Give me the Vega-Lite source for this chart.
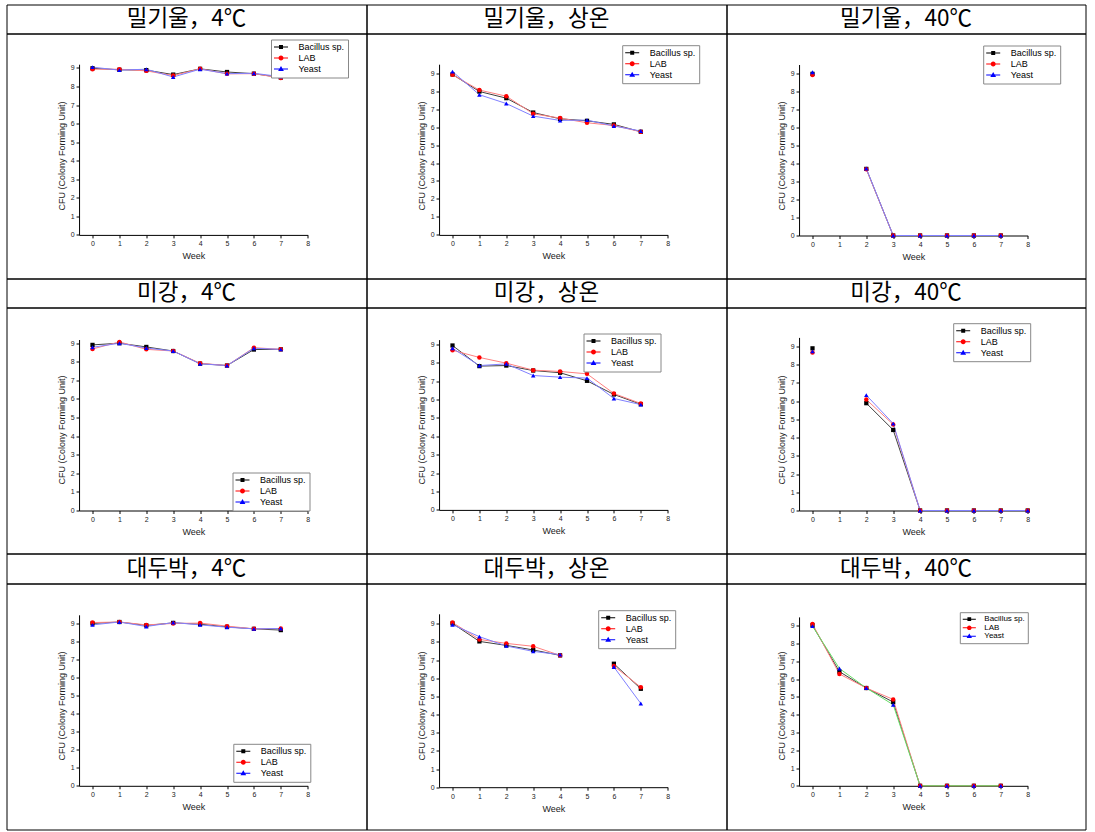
{
"$schema": "https://vega.github.io/schema/vega-lite/v6.json",
"padding": {"left": 5.5, "top": 3.5, "right": 0, "bottom": 0},
"background": "white",
"columns": 3,
"spacing": 0,
"bounds": "flush",
"resolve": {"scale": {"x": "independent", "y": "independent", "color": "independent", "shape": "independent", "stroke": "independent"}, "legend": {"color": "independent", "shape": "independent"}},
"config": {
  "view": {"stroke": "#000", "strokeWidth": 1},
  "axis": {"grid": false, "domain": true, "domainColor": "#000", "domainWidth": 1, "ticks": true, "tickColor": "#000", "tickSize": 3, "tickWidth": 1, "labelFont": "Liberation Sans", "labelFontSize": 7, "labelColor": "#222", "labelPadding": 2, "labelOverlap": false, "labelFlush": false, "titleFont": "Liberation Sans", "titleFontSize": 9, "titleFontWeight": "normal", "titleColor": "#222"},
  "axisX": {"titlePadding": 5, "labelAngle": 0},
  "axisY": {"titlePadding": 4, "labelAngle": 0, "titleY": 122},
  "legend": {"padding": 3, "strokeColor": "#888", "fillColor": "#fff", "labelFont": "Liberation Sans", "labelFontSize": 9, "labelColor": "#000", "symbolSize": 64, "symbolStrokeWidth": 0, "rowPadding": 1, "labelOffset": 13, "symbolOffset": 2.5, "cornerRadius": 0}
},
"datasets": {"d": [
{"p":1,"w":0,"Bacillus":8.98,"LAB":8.93,"Yeast":9.04},
{"p":1,"w":1,"Bacillus":8.90,"LAB":8.93,"Yeast":8.88},
{"p":1,"w":2,"Bacillus":8.88,"LAB":8.84,"Yeast":8.93},
{"p":1,"w":3,"Bacillus":8.64,"LAB":8.59,"Yeast":8.51},
{"p":1,"w":4,"Bacillus":8.95,"LAB":8.95,"Yeast":8.93},
{"p":1,"w":5,"Bacillus":8.78,"LAB":8.68,"Yeast":8.69},
{"p":1,"w":6,"Bacillus":8.69,"LAB":8.69,"Yeast":8.71},
{"p":1,"w":7,"Bacillus":8.48,"LAB":8.46,"Yeast":8.53},
{"p":2,"w":0,"Bacillus":8.93,"LAB":8.91,"Yeast":9.09},
{"p":2,"w":1,"Bacillus":7.98,"LAB":8.06,"Yeast":7.80},
{"p":2,"w":2,"Bacillus":7.61,"LAB":7.72,"Yeast":7.31},
{"p":2,"w":3,"Bacillus":6.81,"LAB":6.74,"Yeast":6.61},
{"p":2,"w":4,"Bacillus":6.46,"LAB":6.50,"Yeast":6.37},
{"p":2,"w":5,"Bacillus":6.35,"LAB":6.24,"Yeast":6.39},
{"p":2,"w":6,"Bacillus":6.15,"LAB":6.09,"Yeast":6.06},
{"p":2,"w":7,"Bacillus":5.74,"LAB":5.74,"Yeast":5.78},
{"p":3,"w":0,"Bacillus":8.98,"LAB":8.91,"Yeast":9.07},
{"p":3,"w":1,"Bacillus":null,"LAB":null,"Yeast":null},
{"p":3,"w":2,"Bacillus":3.70,"LAB":3.68,"Yeast":3.72},
{"p":3,"w":3,"Bacillus":0,"LAB":0,"Yeast":0},
{"p":3,"w":4,"Bacillus":0,"LAB":0,"Yeast":0},
{"p":3,"w":5,"Bacillus":0,"LAB":0,"Yeast":0},
{"p":3,"w":6,"Bacillus":0,"LAB":0,"Yeast":0},
{"p":3,"w":7,"Bacillus":0,"LAB":0,"Yeast":0},
{"p":4,"w":0,"Bacillus":8.91,"LAB":8.69,"Yeast":8.78},
{"p":4,"w":1,"Bacillus":9.00,"LAB":9.07,"Yeast":9.00},
{"p":4,"w":2,"Bacillus":8.80,"LAB":8.67,"Yeast":8.74},
{"p":4,"w":3,"Bacillus":8.58,"LAB":8.58,"Yeast":8.58},
{"p":4,"w":4,"Bacillus":7.90,"LAB":7.92,"Yeast":7.89},
{"p":4,"w":5,"Bacillus":7.80,"LAB":7.80,"Yeast":7.80},
{"p":4,"w":6,"Bacillus":8.66,"LAB":8.76,"Yeast":8.73},
{"p":4,"w":7,"Bacillus":8.67,"LAB":8.67,"Yeast":8.67},
{"p":5,"w":0,"Bacillus":8.93,"LAB":8.67,"Yeast":8.78},
{"p":5,"w":1,"Bacillus":7.81,"LAB":8.28,"Yeast":7.84},
{"p":5,"w":2,"Bacillus":7.84,"LAB":7.97,"Yeast":7.93},
{"p":5,"w":3,"Bacillus":7.57,"LAB":7.59,"Yeast":7.30},
{"p":5,"w":4,"Bacillus":7.45,"LAB":7.52,"Yeast":7.21},
{"p":5,"w":5,"Bacillus":7.01,"LAB":7.39,"Yeast":7.16},
{"p":5,"w":6,"Bacillus":6.27,"LAB":6.32,"Yeast":6.05},
{"p":5,"w":7,"Bacillus":5.74,"LAB":5.78,"Yeast":5.72},
{"p":6,"w":0,"Bacillus":8.90,"LAB":8.67,"Yeast":8.73},
{"p":6,"w":1,"Bacillus":null,"LAB":null,"Yeast":null},
{"p":6,"w":2,"Bacillus":5.89,"LAB":6.09,"Yeast":6.33},
{"p":6,"w":3,"Bacillus":4.42,"LAB":4.72,"Yeast":4.77},
{"p":6,"w":4,"Bacillus":0,"LAB":0,"Yeast":0},
{"p":6,"w":5,"Bacillus":0,"LAB":0,"Yeast":0},
{"p":6,"w":6,"Bacillus":0,"LAB":0,"Yeast":0},
{"p":6,"w":7,"Bacillus":0,"LAB":0,"Yeast":0},
{"p":6,"w":8,"Bacillus":0,"LAB":0,"Yeast":0},
{"p":7,"w":0,"Bacillus":9.02,"LAB":9.07,"Yeast":8.94},
{"p":7,"w":1,"Bacillus":9.10,"LAB":9.10,"Yeast":9.10},
{"p":7,"w":2,"Bacillus":8.91,"LAB":8.94,"Yeast":8.85},
{"p":7,"w":3,"Bacillus":9.05,"LAB":9.02,"Yeast":9.07},
{"p":7,"w":4,"Bacillus":8.98,"LAB":9.04,"Yeast":8.94},
{"p":7,"w":5,"Bacillus":8.83,"LAB":8.87,"Yeast":8.81},
{"p":7,"w":6,"Bacillus":8.72,"LAB":8.72,"Yeast":8.72},
{"p":7,"w":7,"Bacillus":8.65,"LAB":8.74,"Yeast":8.74},
{"p":8,"w":0,"Bacillus":9.02,"LAB":9.07,"Yeast":8.95},
{"p":8,"w":1,"Bacillus":8.03,"LAB":8.14,"Yeast":8.29},
{"p":8,"w":2,"Bacillus":7.81,"LAB":7.92,"Yeast":7.78},
{"p":8,"w":3,"Bacillus":7.56,"LAB":7.76,"Yeast":7.48},
{"p":8,"w":4,"Bacillus":7.26,"LAB":7.26,"Yeast":7.30},
{"p":8,"w":5,"Bacillus":null,"LAB":null,"Yeast":null},
{"p":8,"w":6,"Bacillus":6.80,"LAB":6.67,"Yeast":6.62},
{"p":8,"w":7,"Bacillus":5.42,"LAB":5.51,"Yeast":4.61},
{"p":9,"w":0,"Bacillus":9.03,"LAB":9.10,"Yeast":8.98},
{"p":9,"w":1,"Bacillus":6.42,"LAB":6.29,"Yeast":6.60},
{"p":9,"w":2,"Bacillus":5.50,"LAB":5.50,"Yeast":5.50},
{"p":9,"w":3,"Bacillus":4.71,"LAB":4.86,"Yeast":4.56},
{"p":9,"w":4,"Bacillus":0,"LAB":0,"Yeast":0},
{"p":9,"w":5,"Bacillus":0,"LAB":0,"Yeast":0},
{"p":9,"w":6,"Bacillus":0,"LAB":0,"Yeast":0},
{"p":9,"w":7,"Bacillus":0,"LAB":0,"Yeast":0}
]},
"concat": [
 {"width": 360, "height": 29, "data": {"values": [{"t": "밀기울，4℃"}]}, "mark": {"type": "text", "font": "Noto Sans CJK KR", "fontSize": 22.5, "baseline": "middle", "color": "#000"}, "encoding": {"text": {"field": "t"}, "x": {"datum": 0, "type": "quantitative", "scale": {"domain": [-1, 1]}, "axis": null}, "y": {"datum": 0, "type": "quantitative", "scale": {"domain": [-1, 1]}, "axis": null}}},
 {"width": 360, "height": 29, "data": {"values": [{"t": "밀기울，상온"}]}, "mark": {"type": "text", "font": "Noto Sans CJK KR", "fontSize": 22.5, "baseline": "middle", "color": "#000"}, "encoding": {"text": {"field": "t"}, "x": {"datum": 0, "type": "quantitative", "scale": {"domain": [-1, 1]}, "axis": null}, "y": {"datum": 0, "type": "quantitative", "scale": {"domain": [-1, 1]}, "axis": null}}},
 {"width": 359, "height": 29, "data": {"values": [{"t": "밀기울，40℃"}]}, "mark": {"type": "text", "font": "Noto Sans CJK KR", "fontSize": 22.5, "baseline": "middle", "color": "#000"}, "encoding": {"text": {"field": "t"}, "x": {"datum": 0, "type": "quantitative", "scale": {"domain": [-1, 1]}, "axis": null}, "y": {"datum": 0, "type": "quantitative", "scale": {"domain": [-1, 1]}, "axis": null}}},

 {"width": 360, "height": 245,
  "encoding": {"x": {"field": "w", "type": "quantitative", "scale": {"domain": [-0.5, 8], "range": [72.55, 301.2], "nice": false, "zero": false}, "axis": {"values": [0,1,2,3,4,5,6,7,8], "offset": -43.6, "title": "Week"}}, "y": {"field": "v", "type": "quantitative", "scale": {"domain": [0, 9.2], "range": [201.4, 30.7], "nice": false, "zero": false}, "axis": {"values": [0,1,2,3,4,5,6,7,8,9], "offset": -72.55, "title": "CFU (Colony Forming Unit)"}}},
  "layer": [
  {"data": {"name": "d"}, "transform": [{"filter": "datum.p === 1"}, {"fold": ["Bacillus", "LAB", "Yeast"], "as": ["o", "v"]}], "mark": {"type": "line", "strokeWidth": 1, "invalid": "break-paths-filter-domains"}, "encoding": {"stroke": {"field": "o", "type": "nominal", "scale": {"range": ["#404040", "#ff8080", "#8080ff"]}, "legend": null}}},
  {"data": {"name": "d"}, "transform": [{"filter": "datum.p === 1"}, {"fold": ["Bacillus", "LAB", "Yeast"], "as": ["o", "v"]}, {"filter": "datum.o === 'Bacillus'"}], "mark": {"type": "point", "filled": true, "shape": "square", "color": "#000", "size": 18, "opacity": 1}},
  {"data": {"name": "d"}, "transform": [{"filter": "datum.p === 1"}, {"fold": ["Bacillus", "LAB", "Yeast"], "as": ["o", "v"]}, {"filter": "datum.o === 'LAB'"}], "mark": {"type": "point", "filled": true, "shape": "circle", "color": "#ff0000", "size": 20, "opacity": 1}},
  {"data": {"name": "d"}, "transform": [{"filter": "datum.p === 1"}, {"fold": ["Bacillus", "LAB", "Yeast"], "as": ["o", "v"]}, {"filter": "datum.o === 'Yeast'"}], "mark": {"type": "point", "filled": true, "shape": "triangle-up", "color": "#0000ff", "size": 20, "opacity": 1}},
  {"data": {"values": []}, "mark": {"type": "point", "filled": true, "strokeWidth": 0, "opacity": 1}, "encoding": {"color": {"field": "o", "type": "nominal", "scale": {"domain": ["Bacillus", "LAB", "Yeast"], "range": ["#000000", "#ff0000", "#0000ff"]}, "legend": {"title": null, "orient": "none", "legendX": 264.5, "legendY": 6, "labelExpr": "datum.value === 'Bacillus' ? 'Bacillus sp.' : datum.value"}}, "shape": {"field": "o", "type": "nominal", "scale": {"domain": ["Bacillus", "LAB", "Yeast"], "range": ["M-1.75,-0.13H1.75V0.13H-1.75Z M-0.5,-0.5H0.5V0.5H-0.5Z", "M-1.75,-0.13H1.75V0.13H-1.75Z M-0.62,0A0.62,0.62,0,1,1,0.62,0A0.62,0.62,0,1,1,-0.62,0Z", "M-1.75,-0.13H1.75V0.13H-1.75Z M0,-0.75L0.72,0.5H-0.72Z"]}, "legend": {"title": null, "orient": "none", "legendX": 264.5, "legendY": 6, "labelExpr": "datum.value === 'Bacillus' ? 'Bacillus sp.' : datum.value"}}}}
 ]},

 {"width": 360, "height": 245,
  "encoding": {"x": {"field": "w", "type": "quantitative", "scale": {"domain": [-0.5, 8], "range": [72.55, 301.2], "nice": false, "zero": false}, "axis": {"values": [0,1,2,3,4,5,6,7,8], "offset": -43.6, "title": "Week"}}, "y": {"field": "v", "type": "quantitative", "scale": {"domain": [0, 9.5], "range": [201.4, 30.7], "nice": false, "zero": false}, "axis": {"values": [0,1,2,3,4,5,6,7,8,9], "offset": -72.55, "title": "CFU (Colony Forming Unit)"}}},
  "layer": [
  {"data": {"name": "d"}, "transform": [{"filter": "datum.p === 2"}, {"fold": ["Bacillus", "LAB", "Yeast"], "as": ["o", "v"]}], "mark": {"type": "line", "strokeWidth": 1, "invalid": "break-paths-filter-domains"}, "encoding": {"stroke": {"field": "o", "type": "nominal", "scale": {"range": ["#404040", "#ff8080", "#8080ff"]}, "legend": null}}},
  {"data": {"name": "d"}, "transform": [{"filter": "datum.p === 2"}, {"fold": ["Bacillus", "LAB", "Yeast"], "as": ["o", "v"]}, {"filter": "datum.o === 'Bacillus'"}], "mark": {"type": "point", "filled": true, "shape": "square", "color": "#000", "size": 18, "opacity": 1}},
  {"data": {"name": "d"}, "transform": [{"filter": "datum.p === 2"}, {"fold": ["Bacillus", "LAB", "Yeast"], "as": ["o", "v"]}, {"filter": "datum.o === 'LAB'"}], "mark": {"type": "point", "filled": true, "shape": "circle", "color": "#ff0000", "size": 20, "opacity": 1}},
  {"data": {"name": "d"}, "transform": [{"filter": "datum.p === 2"}, {"fold": ["Bacillus", "LAB", "Yeast"], "as": ["o", "v"]}, {"filter": "datum.o === 'Yeast'"}], "mark": {"type": "point", "filled": true, "shape": "triangle-up", "color": "#0000ff", "size": 20, "opacity": 1}},
  {"data": {"values": []}, "mark": {"type": "point", "filled": true, "strokeWidth": 0, "opacity": 1}, "encoding": {"color": {"field": "o", "type": "nominal", "scale": {"domain": ["Bacillus", "LAB", "Yeast"], "range": ["#000000", "#ff0000", "#0000ff"]}, "legend": {"title": null, "orient": "none", "legendX": 255.7, "legendY": 11.7, "labelExpr": "datum.value === 'Bacillus' ? 'Bacillus sp.' : datum.value"}}, "shape": {"field": "o", "type": "nominal", "scale": {"domain": ["Bacillus", "LAB", "Yeast"], "range": ["M-1.75,-0.13H1.75V0.13H-1.75Z M-0.5,-0.5H0.5V0.5H-0.5Z", "M-1.75,-0.13H1.75V0.13H-1.75Z M-0.62,0A0.62,0.62,0,1,1,0.62,0A0.62,0.62,0,1,1,-0.62,0Z", "M-1.75,-0.13H1.75V0.13H-1.75Z M0,-0.75L0.72,0.5H-0.72Z"]}, "legend": {"title": null, "orient": "none", "legendX": 255.7, "legendY": 11.7, "labelExpr": "datum.value === 'Bacillus' ? 'Bacillus sp.' : datum.value"}}}}
 ]},

 {"width": 359, "height": 245,
  "encoding": {"x": {"field": "w", "type": "quantitative", "scale": {"domain": [-0.5, 8], "range": [72.55, 301.2], "nice": false, "zero": false}, "axis": {"values": [0,1,2,3,4,5,6,7,8], "offset": -43, "title": "Week"}}, "y": {"field": "v", "type": "quantitative", "scale": {"domain": [0, 9.5], "range": [202, 31], "nice": false, "zero": false}, "axis": {"values": [0,1,2,3,4,5,6,7,8,9], "offset": -72.55, "title": "CFU (Colony Forming Unit)"}}},
  "layer": [
  {"data": {"name": "d"}, "transform": [{"filter": "datum.p === 3"}, {"fold": ["Bacillus", "LAB", "Yeast"], "as": ["o", "v"]}], "mark": {"type": "line", "strokeWidth": 1, "invalid": "break-paths-filter-domains"}, "encoding": {"stroke": {"field": "o", "type": "nominal", "scale": {"range": ["#404040", "#ff8080", "#8080ff"]}, "legend": null}}},
  {"data": {"name": "d"}, "transform": [{"filter": "datum.p === 3"}, {"fold": ["Bacillus", "LAB", "Yeast"], "as": ["o", "v"]}, {"filter": "datum.o === 'Bacillus'"}], "mark": {"type": "point", "filled": true, "shape": "square", "color": "#000", "size": 18, "opacity": 1}},
  {"data": {"name": "d"}, "transform": [{"filter": "datum.p === 3"}, {"fold": ["Bacillus", "LAB", "Yeast"], "as": ["o", "v"]}, {"filter": "datum.o === 'LAB'"}], "mark": {"type": "point", "filled": true, "shape": "circle", "color": "#ff0000", "size": 20, "opacity": 1}},
  {"data": {"name": "d"}, "transform": [{"filter": "datum.p === 3"}, {"fold": ["Bacillus", "LAB", "Yeast"], "as": ["o", "v"]}, {"filter": "datum.o === 'Yeast'"}], "mark": {"type": "point", "filled": true, "shape": "triangle-up", "color": "#0000ff", "size": 20, "opacity": 1}},
  {"data": {"values": []}, "mark": {"type": "point", "filled": true, "strokeWidth": 0, "opacity": 1}, "encoding": {"color": {"field": "o", "type": "nominal", "scale": {"domain": ["Bacillus", "LAB", "Yeast"], "range": ["#000000", "#ff0000", "#0000ff"]}, "legend": {"title": null, "orient": "none", "legendX": 256.7, "legendY": 12, "labelExpr": "datum.value === 'Bacillus' ? 'Bacillus sp.' : datum.value"}}, "shape": {"field": "o", "type": "nominal", "scale": {"domain": ["Bacillus", "LAB", "Yeast"], "range": ["M-1.75,-0.13H1.75V0.13H-1.75Z M-0.5,-0.5H0.5V0.5H-0.5Z", "M-1.75,-0.13H1.75V0.13H-1.75Z M-0.62,0A0.62,0.62,0,1,1,0.62,0A0.62,0.62,0,1,1,-0.62,0Z", "M-1.75,-0.13H1.75V0.13H-1.75Z M0,-0.75L0.72,0.5H-0.72Z"]}, "legend": {"title": null, "orient": "none", "legendX": 256.7, "legendY": 12, "labelExpr": "datum.value === 'Bacillus' ? 'Bacillus sp.' : datum.value"}}}}
 ]},

 {"width": 360, "height": 29, "data": {"values": [{"t": "미강，4℃"}]}, "mark": {"type": "text", "font": "Noto Sans CJK KR", "fontSize": 22.5, "baseline": "middle", "color": "#000"}, "encoding": {"text": {"field": "t"}, "x": {"datum": 0, "type": "quantitative", "scale": {"domain": [-1, 1]}, "axis": null}, "y": {"datum": 0, "type": "quantitative", "scale": {"domain": [-1, 1]}, "axis": null}}},
 {"width": 360, "height": 29, "data": {"values": [{"t": "미강，상온"}]}, "mark": {"type": "text", "font": "Noto Sans CJK KR", "fontSize": 22.5, "baseline": "middle", "color": "#000"}, "encoding": {"text": {"field": "t"}, "x": {"datum": 0, "type": "quantitative", "scale": {"domain": [-1, 1]}, "axis": null}, "y": {"datum": 0, "type": "quantitative", "scale": {"domain": [-1, 1]}, "axis": null}}},
 {"width": 359, "height": 29, "data": {"values": [{"t": "미강，40℃"}]}, "mark": {"type": "text", "font": "Noto Sans CJK KR", "fontSize": 22.5, "baseline": "middle", "color": "#000"}, "encoding": {"text": {"field": "t"}, "x": {"datum": 0, "type": "quantitative", "scale": {"domain": [-1, 1]}, "axis": null}, "y": {"datum": 0, "type": "quantitative", "scale": {"domain": [-1, 1]}, "axis": null}}},

 {"width": 360, "height": 246,
  "encoding": {"x": {"field": "w", "type": "quantitative", "scale": {"domain": [-0.5, 8], "range": [72.55, 301.2], "nice": false, "zero": false}, "axis": {"values": [0,1,2,3,4,5,6,7,8], "offset": -43, "title": "Week"}}, "y": {"field": "v", "type": "quantitative", "scale": {"domain": [0, 9.2], "range": [203, 32], "nice": false, "zero": false}, "axis": {"values": [0,1,2,3,4,5,6,7,8,9], "offset": -72.55, "title": "CFU (Colony Forming Unit)"}}},
  "layer": [
  {"data": {"name": "d"}, "transform": [{"filter": "datum.p === 4"}, {"fold": ["Bacillus", "LAB", "Yeast"], "as": ["o", "v"]}], "mark": {"type": "line", "strokeWidth": 1, "invalid": "break-paths-filter-domains"}, "encoding": {"stroke": {"field": "o", "type": "nominal", "scale": {"range": ["#404040", "#ff8080", "#8080ff"]}, "legend": null}}},
  {"data": {"name": "d"}, "transform": [{"filter": "datum.p === 4"}, {"fold": ["Bacillus", "LAB", "Yeast"], "as": ["o", "v"]}, {"filter": "datum.o === 'Bacillus'"}], "mark": {"type": "point", "filled": true, "shape": "square", "color": "#000", "size": 18, "opacity": 1}},
  {"data": {"name": "d"}, "transform": [{"filter": "datum.p === 4"}, {"fold": ["Bacillus", "LAB", "Yeast"], "as": ["o", "v"]}, {"filter": "datum.o === 'LAB'"}], "mark": {"type": "point", "filled": true, "shape": "circle", "color": "#ff0000", "size": 20, "opacity": 1}},
  {"data": {"name": "d"}, "transform": [{"filter": "datum.p === 4"}, {"fold": ["Bacillus", "LAB", "Yeast"], "as": ["o", "v"]}, {"filter": "datum.o === 'Yeast'"}], "mark": {"type": "point", "filled": true, "shape": "triangle-up", "color": "#0000ff", "size": 20, "opacity": 1}},
  {"data": {"values": []}, "mark": {"type": "point", "filled": true, "strokeWidth": 0, "opacity": 1}, "encoding": {"color": {"field": "o", "type": "nominal", "scale": {"domain": ["Bacillus", "LAB", "Yeast"], "range": ["#000000", "#ff0000", "#0000ff"]}, "legend": {"title": null, "orient": "none", "legendX": 226, "legendY": 165, "labelExpr": "datum.value === 'Bacillus' ? 'Bacillus sp.' : datum.value"}}, "shape": {"field": "o", "type": "nominal", "scale": {"domain": ["Bacillus", "LAB", "Yeast"], "range": ["M-1.75,-0.13H1.75V0.13H-1.75Z M-0.5,-0.5H0.5V0.5H-0.5Z", "M-1.75,-0.13H1.75V0.13H-1.75Z M-0.62,0A0.62,0.62,0,1,1,0.62,0A0.62,0.62,0,1,1,-0.62,0Z", "M-1.75,-0.13H1.75V0.13H-1.75Z M0,-0.75L0.72,0.5H-0.72Z"]}, "legend": {"title": null, "orient": "none", "legendX": 226, "legendY": 165, "labelExpr": "datum.value === 'Bacillus' ? 'Bacillus sp.' : datum.value"}}}}
 ]},

 {"width": 360, "height": 246,
  "encoding": {"x": {"field": "w", "type": "quantitative", "scale": {"domain": [-0.5, 8], "range": [72.55, 301.2], "nice": false, "zero": false}, "axis": {"values": [0,1,2,3,4,5,6,7,8], "offset": -43.6, "title": "Week"}}, "y": {"field": "v", "type": "quantitative", "scale": {"domain": [0, 9.25], "range": [202.4, 32.1], "nice": false, "zero": false}, "axis": {"values": [0,1,2,3,4,5,6,7,8,9], "offset": -72.55, "title": "CFU (Colony Forming Unit)"}}},
  "layer": [
  {"data": {"name": "d"}, "transform": [{"filter": "datum.p === 5"}, {"fold": ["Bacillus", "LAB", "Yeast"], "as": ["o", "v"]}], "mark": {"type": "line", "strokeWidth": 1, "invalid": "break-paths-filter-domains"}, "encoding": {"stroke": {"field": "o", "type": "nominal", "scale": {"range": ["#404040", "#ff8080", "#8080ff"]}, "legend": null}}},
  {"data": {"name": "d"}, "transform": [{"filter": "datum.p === 5"}, {"fold": ["Bacillus", "LAB", "Yeast"], "as": ["o", "v"]}, {"filter": "datum.o === 'Bacillus'"}], "mark": {"type": "point", "filled": true, "shape": "square", "color": "#000", "size": 18, "opacity": 1}},
  {"data": {"name": "d"}, "transform": [{"filter": "datum.p === 5"}, {"fold": ["Bacillus", "LAB", "Yeast"], "as": ["o", "v"]}, {"filter": "datum.o === 'LAB'"}], "mark": {"type": "point", "filled": true, "shape": "circle", "color": "#ff0000", "size": 20, "opacity": 1}},
  {"data": {"name": "d"}, "transform": [{"filter": "datum.p === 5"}, {"fold": ["Bacillus", "LAB", "Yeast"], "as": ["o", "v"]}, {"filter": "datum.o === 'Yeast'"}], "mark": {"type": "point", "filled": true, "shape": "triangle-up", "color": "#0000ff", "size": 20, "opacity": 1}},
  {"data": {"values": []}, "mark": {"type": "point", "filled": true, "strokeWidth": 0, "opacity": 1}, "encoding": {"color": {"field": "o", "type": "nominal", "scale": {"domain": ["Bacillus", "LAB", "Yeast"], "range": ["#000000", "#ff0000", "#0000ff"]}, "legend": {"title": null, "orient": "none", "legendX": 217, "legendY": 26, "labelExpr": "datum.value === 'Bacillus' ? 'Bacillus sp.' : datum.value"}}, "shape": {"field": "o", "type": "nominal", "scale": {"domain": ["Bacillus", "LAB", "Yeast"], "range": ["M-1.75,-0.13H1.75V0.13H-1.75Z M-0.5,-0.5H0.5V0.5H-0.5Z", "M-1.75,-0.13H1.75V0.13H-1.75Z M-0.62,0A0.62,0.62,0,1,1,0.62,0A0.62,0.62,0,1,1,-0.62,0Z", "M-1.75,-0.13H1.75V0.13H-1.75Z M0,-0.75L0.72,0.5H-0.72Z"]}, "legend": {"title": null, "orient": "none", "legendX": 217, "legendY": 26, "labelExpr": "datum.value === 'Bacillus' ? 'Bacillus sp.' : datum.value"}}}}
 ]},

 {"width": 359, "height": 246,
  "encoding": {"x": {"field": "w", "type": "quantitative", "scale": {"domain": [-0.5, 8], "range": [72.55, 301.2], "nice": false, "zero": false}, "axis": {"values": [0,1,2,3,4,5,6,7,8], "offset": -43, "title": "Week"}}, "y": {"field": "v", "type": "quantitative", "scale": {"domain": [0, 9.5], "range": [203, 29.9], "nice": false, "zero": false}, "axis": {"values": [0,1,2,3,4,5,6,7,8,9], "offset": -72.55, "title": "CFU (Colony Forming Unit)"}}},
  "layer": [
  {"data": {"name": "d"}, "transform": [{"filter": "datum.p === 6"}, {"fold": ["Bacillus", "LAB", "Yeast"], "as": ["o", "v"]}], "mark": {"type": "line", "strokeWidth": 1, "invalid": "break-paths-filter-domains"}, "encoding": {"stroke": {"field": "o", "type": "nominal", "scale": {"range": ["#404040", "#ff8080", "#8080ff"]}, "legend": null}}},
  {"data": {"name": "d"}, "transform": [{"filter": "datum.p === 6"}, {"fold": ["Bacillus", "LAB", "Yeast"], "as": ["o", "v"]}, {"filter": "datum.o === 'Bacillus'"}], "mark": {"type": "point", "filled": true, "shape": "square", "color": "#000", "size": 18, "opacity": 1}},
  {"data": {"name": "d"}, "transform": [{"filter": "datum.p === 6"}, {"fold": ["Bacillus", "LAB", "Yeast"], "as": ["o", "v"]}, {"filter": "datum.o === 'LAB'"}], "mark": {"type": "point", "filled": true, "shape": "circle", "color": "#ff0000", "size": 20, "opacity": 1}},
  {"data": {"name": "d"}, "transform": [{"filter": "datum.p === 6"}, {"fold": ["Bacillus", "LAB", "Yeast"], "as": ["o", "v"]}, {"filter": "datum.o === 'Yeast'"}], "mark": {"type": "point", "filled": true, "shape": "triangle-up", "color": "#0000ff", "size": 20, "opacity": 1}},
  {"data": {"values": []}, "mark": {"type": "point", "filled": true, "strokeWidth": 0, "opacity": 1}, "encoding": {"color": {"field": "o", "type": "nominal", "scale": {"domain": ["Bacillus", "LAB", "Yeast"], "range": ["#000000", "#ff0000", "#0000ff"]}, "legend": {"title": null, "orient": "none", "legendX": 226.7, "legendY": 15.7, "labelExpr": "datum.value === 'Bacillus' ? 'Bacillus sp.' : datum.value"}}, "shape": {"field": "o", "type": "nominal", "scale": {"domain": ["Bacillus", "LAB", "Yeast"], "range": ["M-1.75,-0.13H1.75V0.13H-1.75Z M-0.5,-0.5H0.5V0.5H-0.5Z", "M-1.75,-0.13H1.75V0.13H-1.75Z M-0.62,0A0.62,0.62,0,1,1,0.62,0A0.62,0.62,0,1,1,-0.62,0Z", "M-1.75,-0.13H1.75V0.13H-1.75Z M0,-0.75L0.72,0.5H-0.72Z"]}, "legend": {"title": null, "orient": "none", "legendX": 226.7, "legendY": 15.7, "labelExpr": "datum.value === 'Bacillus' ? 'Bacillus sp.' : datum.value"}}}}
 ]},

 {"width": 360, "height": 30, "data": {"values": [{"t": "대두박，4℃"}]}, "mark": {"type": "text", "font": "Noto Sans CJK KR", "fontSize": 22.5, "baseline": "middle", "color": "#000"}, "encoding": {"text": {"field": "t"}, "x": {"datum": 0, "type": "quantitative", "scale": {"domain": [-1, 1]}, "axis": null}, "y": {"datum": 0, "type": "quantitative", "scale": {"domain": [-1, 1]}, "axis": null}}},
 {"width": 360, "height": 30, "data": {"values": [{"t": "대두박，상온"}]}, "mark": {"type": "text", "font": "Noto Sans CJK KR", "fontSize": 22.5, "baseline": "middle", "color": "#000"}, "encoding": {"text": {"field": "t"}, "x": {"datum": 0, "type": "quantitative", "scale": {"domain": [-1, 1]}, "axis": null}, "y": {"datum": 0, "type": "quantitative", "scale": {"domain": [-1, 1]}, "axis": null}}},
 {"width": 359, "height": 30, "data": {"values": [{"t": "대두박，40℃"}]}, "mark": {"type": "text", "font": "Noto Sans CJK KR", "fontSize": 22.5, "baseline": "middle", "color": "#000"}, "encoding": {"text": {"field": "t"}, "x": {"datum": 0, "type": "quantitative", "scale": {"domain": [-1, 1]}, "axis": null}, "y": {"datum": 0, "type": "quantitative", "scale": {"domain": [-1, 1]}, "axis": null}}},

 {"width": 360, "height": 246,
  "encoding": {"x": {"field": "w", "type": "quantitative", "scale": {"domain": [-0.5, 8], "range": [72.55, 301.2], "nice": false, "zero": false}, "axis": {"values": [0,1,2,3,4,5,6,7,8], "offset": -43.7, "title": "Week"}}, "y": {"field": "v", "type": "quantitative", "scale": {"domain": [0, 9.5], "range": [202.3, 31.3], "nice": false, "zero": false}, "axis": {"values": [0,1,2,3,4,5,6,7,8,9], "offset": -72.55, "title": "CFU (Colony Forming Unit)"}}},
  "layer": [
  {"data": {"name": "d"}, "transform": [{"filter": "datum.p === 7"}, {"fold": ["Bacillus", "LAB", "Yeast"], "as": ["o", "v"]}], "mark": {"type": "line", "strokeWidth": 1, "invalid": "break-paths-filter-domains"}, "encoding": {"stroke": {"field": "o", "type": "nominal", "scale": {"range": ["#404040", "#ff8080", "#8080ff"]}, "legend": null}}},
  {"data": {"name": "d"}, "transform": [{"filter": "datum.p === 7"}, {"fold": ["Bacillus", "LAB", "Yeast"], "as": ["o", "v"]}, {"filter": "datum.o === 'Bacillus'"}], "mark": {"type": "point", "filled": true, "shape": "square", "color": "#000", "size": 18, "opacity": 1}},
  {"data": {"name": "d"}, "transform": [{"filter": "datum.p === 7"}, {"fold": ["Bacillus", "LAB", "Yeast"], "as": ["o", "v"]}, {"filter": "datum.o === 'LAB'"}], "mark": {"type": "point", "filled": true, "shape": "circle", "color": "#ff0000", "size": 20, "opacity": 1}},
  {"data": {"name": "d"}, "transform": [{"filter": "datum.p === 7"}, {"fold": ["Bacillus", "LAB", "Yeast"], "as": ["o", "v"]}, {"filter": "datum.o === 'Yeast'"}], "mark": {"type": "point", "filled": true, "shape": "triangle-up", "color": "#0000ff", "size": 20, "opacity": 1}},
  {"data": {"values": []}, "mark": {"type": "point", "filled": true, "strokeWidth": 0, "opacity": 1}, "encoding": {"color": {"field": "o", "type": "nominal", "scale": {"domain": ["Bacillus", "LAB", "Yeast"], "range": ["#000000", "#ff0000", "#0000ff"]}, "legend": {"title": null, "orient": "none", "legendX": 226.8, "legendY": 160.3, "labelExpr": "datum.value === 'Bacillus' ? 'Bacillus sp.' : datum.value"}}, "shape": {"field": "o", "type": "nominal", "scale": {"domain": ["Bacillus", "LAB", "Yeast"], "range": ["M-1.75,-0.13H1.75V0.13H-1.75Z M-0.5,-0.5H0.5V0.5H-0.5Z", "M-1.75,-0.13H1.75V0.13H-1.75Z M-0.62,0A0.62,0.62,0,1,1,0.62,0A0.62,0.62,0,1,1,-0.62,0Z", "M-1.75,-0.13H1.75V0.13H-1.75Z M0,-0.75L0.72,0.5H-0.72Z"]}, "legend": {"title": null, "orient": "none", "legendX": 226.8, "legendY": 160.3, "labelExpr": "datum.value === 'Bacillus' ? 'Bacillus sp.' : datum.value"}}}}
 ]},

 {"width": 360, "height": 246,
  "encoding": {"x": {"field": "w", "type": "quantitative", "scale": {"domain": [-0.5, 8], "range": [72.55, 301.2], "nice": false, "zero": false}, "axis": {"values": [0,1,2,3,4,5,6,7,8], "offset": -42.3, "title": "Week"}}, "y": {"field": "v", "type": "quantitative", "scale": {"domain": [0, 9.55], "range": [203.7, 30.3], "nice": false, "zero": false}, "axis": {"values": [0,1,2,3,4,5,6,7,8,9], "offset": -72.55, "title": "CFU (Colony Forming Unit)"}}},
  "layer": [
  {"data": {"name": "d"}, "transform": [{"filter": "datum.p === 8"}, {"fold": ["Bacillus", "LAB", "Yeast"], "as": ["o", "v"]}], "mark": {"type": "line", "strokeWidth": 1, "invalid": "break-paths-filter-domains"}, "encoding": {"stroke": {"field": "o", "type": "nominal", "scale": {"range": ["#404040", "#ff8080", "#8080ff"]}, "legend": null}}},
  {"data": {"name": "d"}, "transform": [{"filter": "datum.p === 8"}, {"fold": ["Bacillus", "LAB", "Yeast"], "as": ["o", "v"]}, {"filter": "datum.o === 'Bacillus'"}], "mark": {"type": "point", "filled": true, "shape": "square", "color": "#000", "size": 18, "opacity": 1}},
  {"data": {"name": "d"}, "transform": [{"filter": "datum.p === 8"}, {"fold": ["Bacillus", "LAB", "Yeast"], "as": ["o", "v"]}, {"filter": "datum.o === 'LAB'"}], "mark": {"type": "point", "filled": true, "shape": "circle", "color": "#ff0000", "size": 20, "opacity": 1}},
  {"data": {"name": "d"}, "transform": [{"filter": "datum.p === 8"}, {"fold": ["Bacillus", "LAB", "Yeast"], "as": ["o", "v"]}, {"filter": "datum.o === 'Yeast'"}], "mark": {"type": "point", "filled": true, "shape": "triangle-up", "color": "#0000ff", "size": 20, "opacity": 1}},
  {"data": {"values": []}, "mark": {"type": "point", "filled": true, "strokeWidth": 0, "opacity": 1}, "encoding": {"color": {"field": "o", "type": "nominal", "scale": {"domain": ["Bacillus", "LAB", "Yeast"], "range": ["#000000", "#ff0000", "#0000ff"]}, "legend": {"title": null, "orient": "none", "legendX": 231.7, "legendY": 26.7, "labelExpr": "datum.value === 'Bacillus' ? 'Bacillus sp.' : datum.value"}}, "shape": {"field": "o", "type": "nominal", "scale": {"domain": ["Bacillus", "LAB", "Yeast"], "range": ["M-1.75,-0.13H1.75V0.13H-1.75Z M-0.5,-0.5H0.5V0.5H-0.5Z", "M-1.75,-0.13H1.75V0.13H-1.75Z M-0.62,0A0.62,0.62,0,1,1,0.62,0A0.62,0.62,0,1,1,-0.62,0Z", "M-1.75,-0.13H1.75V0.13H-1.75Z M0,-0.75L0.72,0.5H-0.72Z"]}, "legend": {"title": null, "orient": "none", "legendX": 231.7, "legendY": 26.7, "labelExpr": "datum.value === 'Bacillus' ? 'Bacillus sp.' : datum.value"}}}}
 ]},

 {"width": 359, "height": 246,
  "encoding": {"x": {"field": "w", "type": "quantitative", "scale": {"domain": [-0.5, 8], "range": [72.55, 301.2], "nice": false, "zero": false}, "axis": {"values": [0,1,2,3,4,5,6,7,8], "offset": -43.7, "title": "Week"}}, "y": {"field": "v", "type": "quantitative", "scale": {"domain": [0, 9.5], "range": [202.3, 33.4], "nice": false, "zero": false}, "axis": {"values": [0,1,2,3,4,5,6,7,8,9], "offset": -72.55, "title": "CFU (Colony Forming Unit)"}}},
  "layer": [
  {"data": {"name": "d"}, "transform": [{"filter": "datum.p === 9"}, {"fold": ["Bacillus", "LAB", "Yeast"], "as": ["o", "v"]}], "mark": {"type": "line", "strokeWidth": 1, "invalid": "break-paths-filter-domains"}, "encoding": {"stroke": {"field": "o", "type": "nominal", "scale": {"range": ["#404040", "#ff8080", "#66dd66"]}, "legend": null}}},
  {"data": {"name": "d"}, "transform": [{"filter": "datum.p === 9"}, {"fold": ["Bacillus", "LAB", "Yeast"], "as": ["o", "v"]}, {"filter": "datum.o === 'Bacillus'"}], "mark": {"type": "point", "filled": true, "shape": "square", "color": "#000", "size": 18, "opacity": 1}},
  {"data": {"name": "d"}, "transform": [{"filter": "datum.p === 9"}, {"fold": ["Bacillus", "LAB", "Yeast"], "as": ["o", "v"]}, {"filter": "datum.o === 'LAB'"}], "mark": {"type": "point", "filled": true, "shape": "circle", "color": "#ff0000", "size": 20, "opacity": 1}},
  {"data": {"name": "d"}, "transform": [{"filter": "datum.p === 9"}, {"fold": ["Bacillus", "LAB", "Yeast"], "as": ["o", "v"]}, {"filter": "datum.o === 'Yeast'"}], "mark": {"type": "point", "filled": true, "shape": "triangle-up", "color": "#0000ff", "size": 20, "opacity": 1}},
  {"data": {"values": []}, "mark": {"type": "point", "filled": true, "strokeWidth": 0, "opacity": 1}, "encoding": {"color": {"field": "o", "type": "nominal", "scale": {"domain": ["Bacillus", "LAB", "Yeast"], "range": ["#000000", "#ff0000", "#0000ff"]}, "legend": {"title": null, "orient": "none", "legendX": 233.3, "legendY": 28.7, "labelFontSize": 8, "symbolSize": 56, "labelOffset": 11, "rowPadding": 0.5, "labelExpr": "datum.value === 'Bacillus' ? 'Bacillus sp.' : datum.value"}}, "shape": {"field": "o", "type": "nominal", "scale": {"domain": ["Bacillus", "LAB", "Yeast"], "range": ["M-1.75,-0.13H1.75V0.13H-1.75Z M-0.5,-0.5H0.5V0.5H-0.5Z", "M-1.75,-0.13H1.75V0.13H-1.75Z M-0.62,0A0.62,0.62,0,1,1,0.62,0A0.62,0.62,0,1,1,-0.62,0Z", "M-1.75,-0.13H1.75V0.13H-1.75Z M0,-0.75L0.72,0.5H-0.72Z"]}, "legend": {"title": null, "orient": "none", "legendX": 233.3, "legendY": 28.7, "labelFontSize": 8, "symbolSize": 56, "labelOffset": 11, "rowPadding": 0.5, "labelExpr": "datum.value === 'Bacillus' ? 'Bacillus sp.' : datum.value"}}}}
 ]}
]
}
